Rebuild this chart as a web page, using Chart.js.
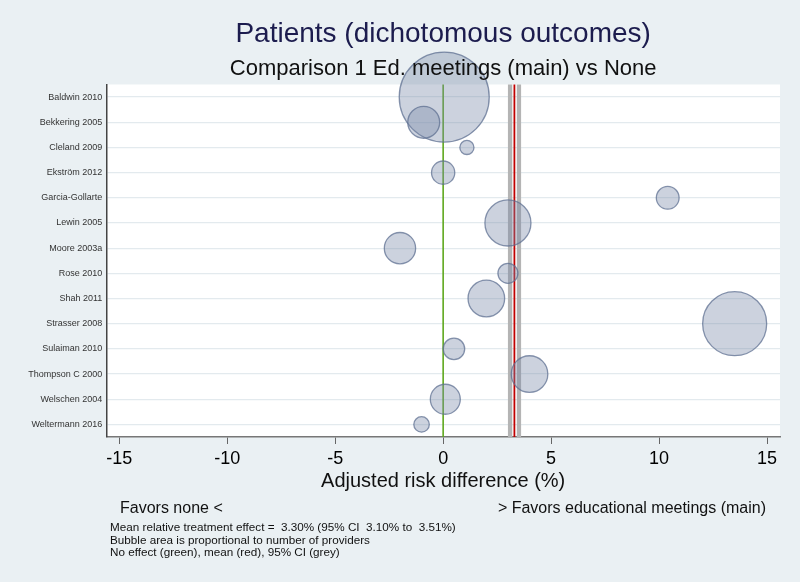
<!DOCTYPE html>
<html>
<head>
<meta charset="utf-8">
<script src="https://cdn.jsdelivr.net/npm/chart.js@4.4.1/dist/chart.umd.min.js"></script>
<style>
  html, body { margin: 0; padding: 0; background: #EAF0F3; }
  #wrap { width: 800px; height: 582px; }
</style>
</head>
<body>
<div id="wrap"><canvas id="c" width="800" height="582"></canvas></div>
<script>
// ---- data ----
const studies = ["Baldwin 2010", "Bekkering 2005", "Cleland 2009", "Ekström 2012", "Garcia-Gollarte",
  "Lewin 2005", "Moore 2003a", "Rose 2010", "Shah 2011", "Strasser 2008", "Sulaiman 2010",
  "Thompson C 2000", "Welschen 2004", "Weltermann 2016"];
const riskDiff = [0.05, -0.9, 1.1, 0.0, 10.4, 3.0, -2.0, 3.0, 2.0, 13.5, 0.5, 4.0, 0.1, -1.0];
const providers = [405, 51, 10, 27, 26, 106, 49, 20, 67, 205, 23, 67, 45, 12];
const xTickValues = [-15, -10, -5, 0, 5, 10, 15];
const noEffect = 0;
const meanEffect = 3.30;
const ciLow = 3.10;
const ciHigh = 3.51;

const titleText = "Patients (dichotomous outcomes)";
const subtitleText = "Comparison 1 Ed. meetings (main) vs None";
const xTitle = "Adjusted risk difference (%)";
const favorsLeft = "Favors none <";
const favorsRight = "> Favors educational meetings (main)";
const notes = [
  "Mean relative treatment effect =  3.30% (95% CI  3.10% to  3.51%)",
  "Bubble area is proportional to number of providers",
  "No effect (green), mean (red), 95% CI (grey)"
];

const FONT = "'Liberation Sans', Arial, Helvetica, sans-serif";

const bgPlugin = {
  id: 'bg',
  beforeDraw(chart) {
    const {ctx, chartArea: a} = chart;
    ctx.save();
    ctx.fillStyle = '#EAF0F3';
    ctx.fillRect(0, 0, chart.width, chart.height);
    ctx.fillStyle = '#FFFFFF';
    ctx.fillRect(a.left, a.top, a.right - a.left, a.bottom - a.top);
    ctx.restore();
  }
};

const refLines = {
  id: 'refLines',
  beforeDatasetsDraw(chart) {
    const {ctx, chartArea: a, scales: {x}} = chart;
    const vline = (v, color, w) => {
      const px = x.getPixelForValue(v);
      ctx.beginPath();
      ctx.strokeStyle = color;
      ctx.lineWidth = w;
      ctx.moveTo(px, a.top);
      ctx.lineTo(px, a.bottom);
      ctx.stroke();
    };
    ctx.save();
    vline(ciLow, '#b4b4b4', 4.3);
    vline(ciHigh, '#b4b4b4', 4.3);
    vline(meanEffect, '#c00000', 1.8);
    vline(noEffect, '#5fa81e', 1.6);
    ctx.restore();
  }
};

const texts = {
  id: 'texts',
  afterDraw(chart) {
    const {ctx, chartArea: a} = chart;
    const cx = (a.left + a.right) / 2;
    ctx.save();
    ctx.textBaseline = 'alphabetic';
    ctx.textAlign = 'center';
    ctx.fillStyle = '#1c1c4e';
    ctx.font = "28px " + FONT;
    ctx.fillText(titleText, cx, 42);
    ctx.fillStyle = '#111111';
    ctx.font = "22px " + FONT;
    ctx.fillText(subtitleText, cx, 75);
    ctx.font = "20px " + FONT;
    ctx.fillText(xTitle, cx, 487);
    ctx.font = "16px " + FONT;
    ctx.textAlign = 'left';
    ctx.fillText(favorsLeft, 120, 513);
    ctx.textAlign = 'right';
    ctx.fillText(favorsRight, 766, 513);
    ctx.textAlign = 'left';
    ctx.font = "11.7px " + FONT;
    notes.forEach((t, i) => ctx.fillText(t, 110, 531 + i * 12.5));
    ctx.restore();
  }
};

new Chart(document.getElementById('c'), {
  type: 'bubble',
  data: {
    datasets: [{
      data: studies.map((s, i) => ({ x: riskDiff[i], y: s, r: Math.sqrt(providers[i] * 5) })),
      backgroundColor: 'rgba(120,138,168,0.38)',
      borderColor: 'rgba(95,112,145,0.75)',
      borderWidth: 1.3,
      hoverRadius: 0,
      clip: false
    }]
  },
  options: {
    responsive: false,
    animation: false,
    devicePixelRatio: 1,
    layout: { autoPadding: false, padding: { top: 84.5, right: 20, left: 0, bottom: 0 } },
    plugins: { legend: { display: false }, tooltip: { enabled: false } },
    scales: {
      x: {
        type: 'linear',
        min: -15.6,
        max: 15.6,
        afterBuildTicks: s => { s.ticks = xTickValues.map(v => ({ value: v })); },
        afterFit: s => { s.height = 145; s.paddingLeft = 0; s.paddingRight = 0; },
        grid: { drawOnChartArea: false, drawTicks: true, tickLength: 7, color: '#666', lineWidth: 1 },
        border: { color: '#777', width: 1.5 },
        ticks: { font: { family: FONT, size: 18 }, color: '#000', padding: 4, autoSkip: false, maxRotation: 0,
          callback: v => String(v) }
      },
      y: {
        type: 'category',
        labels: studies,
        offset: true,
        afterFit: s => { s.width = 106.3; s.paddingTop = 0; s.paddingBottom = 0; },
        grid: { offset: false, color: '#E3EAEE', lineWidth: 1.2, drawTicks: false },
        border: { color: '#444', width: 1.5 },
        ticks: { font: { family: FONT, size: 9 }, color: '#333', padding: 4, autoSkip: false }
      }
    }
  },
  plugins: [bgPlugin, refLines, texts]
});
</script>
</body>
</html>
